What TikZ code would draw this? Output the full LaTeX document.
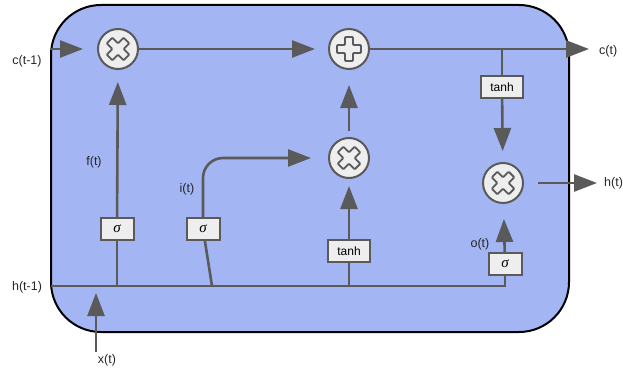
\documentclass[tikz,border=0pt]{standalone}
\usepackage{fontspec}
\setmainfont{Liberation Sans}
\newfontfamily\greekSerif{Liberation Serif}
\usetikzlibrary{arrows.meta, positioning, calc}
\definecolor{cellFill}{RGB}{164,181,244}
\definecolor{wireGray}{RGB}{90,90,90}
\definecolor{opFill}{RGB}{238,238,238}
\newcommand{\sigSym}{{\greekSerif\itshape σ}}
\tikzset{
  cellBox/.style={draw=black, line width=2pt, fill=cellFill, rounded corners=50pt},
  opCirc/.style={circle, draw=wireGray, line width=2pt, fill=opFill, minimum size=40pt, inner sep=0pt},
  gateBox/.style={rectangle, draw=wireGray, line width=2pt, fill=opFill, minimum width=33pt, minimum height=22pt, inner sep=1pt, font=\fontsize{15}{16}\selectfont},
  actBox/.style={gateBox, minimum width=42pt, font=\fontsize{12}{14}\selectfont},
  wire/.style={draw=wireGray, line width=2.6pt},
  wireArr/.style={wire, -{Triangle[length=23pt,width=17pt]}},
  sigLbl/.style={font=\fontsize{12.5}{14}\selectfont, text=black!85, inner sep=0pt},
  symLine/.style={draw=wireGray, line width=1.8pt, rounded corners=1pt},
  plusMark/.pic={\draw[symLine] (-4,-12) -- (4,-12) -- (4,-4) -- (12,-4) -- (12,4) -- (4,4) -- (4,12) -- (-4,12) -- (-4,4) -- (-12,4) -- (-12,-4) -- (-4,-4) -- cycle;},
}
\begin{document}
\begin{tikzpicture}[x=1pt, y=-1pt]
\useasboundingbox (0,0) rectangle (623,369);
\draw[cellBox] (51,5) rectangle (569,332);

% cell state line and ops
\coordinate (cin) at (51,49);
\coordinate (cout) at (589,49);
\node (mulf) [opCirc] at (118,49) {};
\node (add) [opCirc] at (349,49) {};
\node (muli) [opCirc] at (349,158) {};
\node (mulo) [opCirc] at (503,183) {};
\pic[rotate=45] at (mulf) {plusMark};
\pic at (add) {plusMark};
\pic[rotate=45] at (muli) {plusMark};
\pic[rotate=45] at (mulo) {plusMark};

% gates
\coordinate (hin) at (51,286);
\coordinate (hi) at (212,286);
\node (sigf) [gateBox] at (117,229) {\sigSym};
\node (sigi) [gateBox] at (203,229) {\sigSym};
\node (tanc) [actBox] at (349,251) {tanh};
\node (sigo) [gateBox] at (505,264) {\sigSym};
\node (tanh) [actBox] at (502,87) {tanh};
\coordinate (hout) at (597,183);
\coordinate (xin) at (96,352);
\coordinate (xtip) at (96,293);

\draw[wireArr, shorten >=14pt] (cin) -- (mulf);
\draw[wireArr, shorten >=13pt] (mulf) -- (add);
\draw[wireArr] (add) -- (cout);
\draw[wire] (tanh |- add) -- (tanh);
\draw[wireArr, shorten >=11pt] (tanh) -- (mulo);
\draw[wireArr, shorten <=14pt] (mulo) -- (hout);

\draw[wire] (hin) -| (sigo);
\draw[wire] (sigf |- hin) -- (sigf);
\draw[wire] (sigi) -- (hi);
\draw[wire] (tanc |- hin) -- (tanc);
\draw[wireArr, shorten >=12pt] (sigf) -- (mulf);
\draw[wireArr, rounded corners=20pt, shorten >=17pt] (sigi.north) |- (muli);
\draw[wireArr, shorten >=7pt] (tanc) -- (muli);
\draw[wireArr, shorten <=6pt, shorten >=15pt] (muli) -- (add);
\draw[wireArr, shorten >=15pt] (sigo) -- (mulo);
\draw[wireArr] (xin) -- (xtip);

% labels
\node (lcp) [sigLbl] at (27,61) {c(t-1)};
\node (lhp) [sigLbl] at (27,287) {h(t-1)};
\node (lf) [sigLbl] at (94,162) {f(t)};
\node (li) [sigLbl] at (187,189) {i(t)};
\node (lo) [sigLbl] at (480,244) {o(t)};
\node (lx) [sigLbl] at (107,360) {x(t)};
\node (lc) [sigLbl, anchor=west] at (599,51) {c(t)};
\node (lh) [sigLbl, anchor=west] at (604,183) {h(t)};
\end{tikzpicture}
\end{document}
